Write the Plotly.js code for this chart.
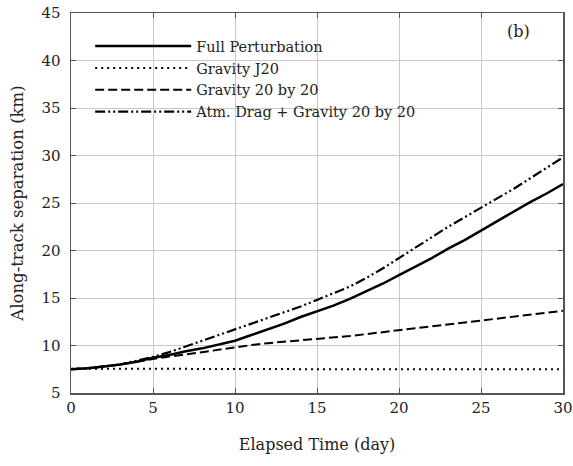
<!DOCTYPE html>
<html>
<head>
<meta charset="utf-8">
<script src="https://cdn.plot.ly/plotly-3.0.1.min.js"></script>
<style>html,body{margin:0;padding:0;background:#fff;}#chart{width:573px;height:466px;}</style>
</head>
<body>
<div id="chart"></div>
<script>
// Elapsed time (day)
const days = [0,1,2,3,4,5,6,7,8,9,10,11,12,13,14,15,16,17,18,19,20,21,22,23,24,25,26,27,28,29,30];
// Along-track separation (km)
const fullPerturbation = [7.5,7.6,7.8,8.0,8.3,8.7,9.0,9.4,9.7,10.1,10.5,11.1,11.7,12.3,13.0,13.6,14.2,14.9,15.7,16.5,17.4,18.3,19.2,20.2,21.1,22.1,23.1,24.1,25.1,26.0,27.0];
const gravityJ20 = [7.55,7.56,7.55,7.55,7.56,7.55,7.55,7.54,7.55,7.54,7.52,7.52,7.51,7.52,7.51,7.52,7.51,7.51,7.52,7.51,7.51,7.5,7.51,7.5,7.5,7.5,7.49,7.5,7.5,7.5,7.5];
const gravity20by20 = [7.5,7.6,7.8,8.0,8.3,8.6,8.85,9.05,9.3,9.6,9.85,10.05,10.25,10.4,10.55,10.65,10.8,11.0,11.2,11.4,11.6,11.8,12.0,12.2,12.45,12.65,12.85,13.05,13.25,13.45,13.65];
const atmDragGravity = [7.5,7.6,7.8,8.0,8.4,8.8,9.3,9.9,10.5,11.1,11.7,12.3,12.9,13.5,14.1,14.8,15.5,16.2,17.1,18.1,19.2,20.3,21.4,22.5,23.5,24.5,25.5,26.5,27.6,28.7,29.8];
const seriesNames = ["Full Perturbation","Gravity J20","Gravity 20 by 20","Atm. Drag + Gravity 20 by 20"];
const xTicks = [0,5,10,15,20,25,30];
const yTicks = [5,10,15,20,25,30,35,40,45];

const FONT = "DejaVu Serif";
const traces = [
  {x: days, y: fullPerturbation, name: seriesNames[0], mode: "lines", line: {color: "#000", width: 2.5, dash: "solid"}},
  {x: days, y: gravityJ20, name: seriesNames[1], mode: "lines", line: {color: "#000", width: 2, dash: "2px,4px"}},
  {x: days, y: gravity20by20, name: seriesNames[2], mode: "lines", line: {color: "#000", width: 2, dash: "9px,4px"}},
  {x: days, y: atmDragGravity, name: seriesNames[3], mode: "lines", line: {color: "#000", width: 2.2, dash: "10px,3px,2px,3px,2px,3px"}}
];

const axisCommon = {
  showgrid: true, gridcolor: "#c8c8c8", gridwidth: 1,
  showline: true, linecolor: "#555", linewidth: 1.5, mirror: "ticks",
  ticks: "inside", ticklen: 5, tickcolor: "#555", tickwidth: 1,
  zeroline: false,
  tickfont: {family: FONT, size: 15, color: "#222"}
};

const layout = {
  width: 573, height: 466,
  margin: {l: 71, r: 10, t: 13, b: 73},
  paper_bgcolor: "#fff", plot_bgcolor: "#fff",
  font: {family: FONT, color: "#222"},
  showlegend: true,
  legend: {
    x: 0.039, y: 0.955, xanchor: "left", yanchor: "top",
    bgcolor: "rgba(255,255,255,0)", borderwidth: 0,
    font: {family: FONT, size: 14.5, color: "#222"},
    itemwidth: 96, tracegroupgap: 0
  },
  xaxis: Object.assign({}, axisCommon, {
    range: [0, 30], tickvals: xTicks, ticktext: xTicks.map(String),
    title: {text: "Elapsed Time (day)", font: {family: FONT, size: 16, color: "#222"}, standoff: 23}
  }),
  yaxis: Object.assign({}, axisCommon, {
    range: [5, 45], tickvals: yTicks, ticktext: yTicks.map(String),
    ticklabelstandoff: 6,
    title: {text: "Along-track separation (km)", font: {family: FONT, size: 16.5, color: "#222"}, standoff: 13}
  }),
  shapes: [
    {type: "rect", xref: "paper", yref: "paper", x0: 0.005, x1: 0.715, y0: 0.682, y1: 0.995, fillcolor: "#fff", line: {width: 0}, layer: "between"}
  ],
  annotations: [
    {text: "(b)", xref: "x", yref: "y", x: 27.3, y: 43.1, showarrow: false, font: {family: FONT, size: 16, color: "#222"}}
  ]
};

Plotly.newPlot("chart", traces, layout, {staticPlot: true, displayModeBar: false});
</script>
</body>
</html>
